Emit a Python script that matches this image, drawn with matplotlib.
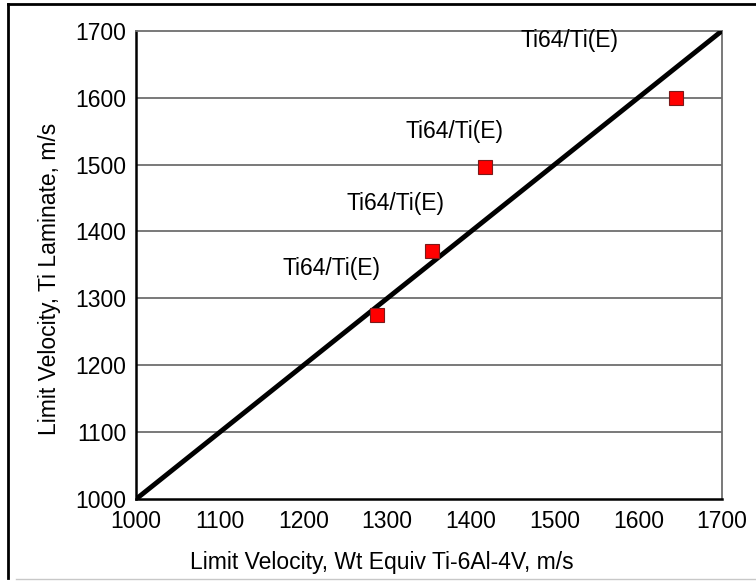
import numpy as np
import matplotlib.pyplot as plt
from matplotlib.lines import Line2D

plt.rcParams['font.family'] = ['Liberation Sans', 'DejaVu Sans']

# data
x_equiv = [1288, 1354, 1417, 1645]
v_lam = [1275, 1371, 1496, 1600]
lbl = ['Ti64/Ti(E)', 'Ti64/Ti(E)', 'Ti64/Ti(E)', 'Ti64/Ti(E)']
lbl_x = [1233, 1310, 1381, 1518]
lbl_y = [1345, 1442, 1550, 1686]
ref_line = [1000, 1700]
ticks = [1000, 1100, 1200, 1300, 1400, 1500, 1600, 1700]

fig = plt.figure(figsize=(7.56, 5.81), dpi=100)
ax = fig.add_axes([0.180, 0.141, 0.775, 0.806])

for t in ticks[1:-1]:
    ax.axhline(t, color='#6e6e6e', lw=1.3, zorder=1)

ax.plot(ref_line, ref_line, color='black', lw=3.5, zorder=3)
ax.plot(x_equiv, v_lam, ls='none', marker='s', ms=10, mfc='#ff0000',
        mec='#7a1a1a', mew=0.8, zorder=4)
for tx, ty, s in zip(lbl_x, lbl_y, lbl):
    ax.text(tx, ty, s, ha='center', va='center', fontsize=16.5)

ax.set_xlim(1000, 1700)
ax.set_ylim(1000, 1700)
ax.set_xticks(ticks)
ax.set_yticks(ticks)
ax.tick_params(length=0, labelsize=16.5)
ax.tick_params(axis='x', pad=8)
ax.tick_params(axis='y', pad=7)
for sp in ['top', 'right']:
    ax.spines[sp].set_color('#6e6e6e')
    ax.spines[sp].set_linewidth(1.3)
for sp in ['left', 'bottom']:
    ax.spines[sp].set_color('black')
    ax.spines[sp].set_linewidth(1.8)

fig.text(0.505, 0.031, 'Limit Velocity, Wt Equiv Ti-6Al-4V, m/s', ha='center',
         va='center', fontsize=16.5)
fig.text(0.066, 0.52, 'Limit Velocity, Ti Laminate, m/s', ha='center',
         va='center', rotation=90, fontsize=16.5)

# outer frame
fig.add_artist(Line2D([0.010, 0.010], [0.005, 0.993], color='black', lw=2))
fig.add_artist(Line2D([0.010, 1.0], [0.993, 0.993], color='black', lw=2))
fig.add_artist(Line2D([0.021, 1.0], [0.004, 0.004], color='#c8c8c8', lw=1))

fig.savefig('out.png', dpi=100)
